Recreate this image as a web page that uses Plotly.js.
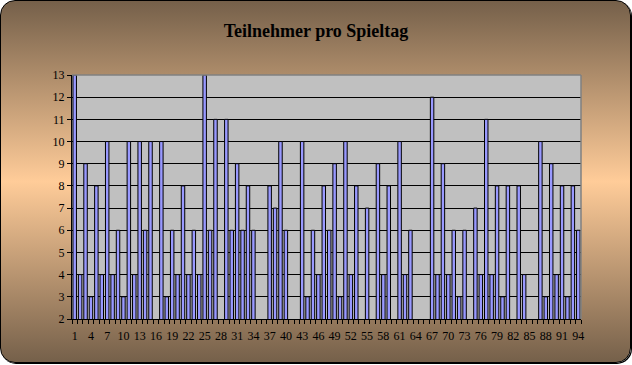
<!DOCTYPE html>
<html>
<head>
<meta charset="utf-8">
<script src="https://cdn.plot.ly/plotly-3.0.1.min.js"></script>
<style>
  html, body { margin: 0; padding: 0; background: #ffffff; }
  #frame {
    position: absolute; left: 0; top: 0;
    width: 631px; height: 363px;
    box-sizing: border-box;
    border: 1px solid #000;
    border-radius: 15px;
    box-shadow: 1px 1px 0 #000;
    background: linear-gradient(to bottom, #75604A 0%, #FFCC99 50%, #75604A 100%);
    overflow: hidden;
  }
  #chart { position: absolute; left: 0; top: 0; width: 632px; height: 365px; }
</style>
</head>
<body>
<div id="frame"></div>
<div id="chart"></div>
<script>
const title = "Teilnehmer pro Spieltag";
const spieltage = [1,2,3,4,5,6,7,8,9,10,11,12,13,14,15,16,17,18,19,20,21,22,23,24,25,26,27,28,29,30,31,32,33,34,35,36,37,38,39,40,41,42,43,44,45,46,47,48,49,50,51,52,53,54,55,56,57,58,59,60,61,62,63,64,65,66,67,68,69,70,71,72,73,74,75,76,77,78,79,80,81,82,83,84,85,86,87,88,89,90,91,92,93,94];
const teilnehmer = [13,4,9,3,8,4,10,4,6,3,10,4,10,6,10,null,10,3,6,4,8,4,6,4,13,6,11,null,11,6,9,6,8,6,null,null,8,7,10,6,null,null,10,3,6,4,8,6,9,3,10,4,8,null,7,null,9,4,8,null,10,4,6,null,null,null,12,4,9,4,6,3,6,null,7,4,11,4,8,3,8,null,8,4,null,null,10,3,9,4,8,3,8,6];
const xTickVals = [1,4,7,10,13,16,19,22,25,28,31,34,37,40,43,46,49,52,55,58,61,64,67,70,73,76,79,82,85,88,91,94];
const xTickText = ["1","4","7","10","13","16","19","22","25","28","31","34","37","40","43","46","49","52","55","58","61","64","67","70","73","76","79","82","85","88","91","94"];
const yTickVals = [2,3,4,5,6,7,8,9,10,11,12,13];

const font = "Liberation Serif, Times New Roman, serif";

const trace = {
  type: "bar",
  x: spieltage,
  y: teilnehmer,
  marker: { color: "#9999FF", line: { color: "#000000", width: 1 } },
  hoverinfo: "x+y"
};

const layout = {
  width: 632, height: 365,
  margin: { l: 72, r: 51, t: 75, b: 46 },
  paper_bgcolor: "rgba(0,0,0,0)",
  plot_bgcolor: "#C0C0C0",
  showlegend: false,
  bargap: 0.36,
  title: {
    text: "<b>" + title + "</b>",
    font: { family: font, size: 18, color: "#000000" },
    x: 0.5, xanchor: "center", xref: "container",
    y: 1 - 31/365, yanchor: "middle", yref: "container"
  },
  xaxis: {
    range: [0.5, 94.5],
    tickmode: "array", tickvals: xTickVals, ticktext: xTickText,
    ticks: "", showgrid: false, zeroline: false,
    showline: true, linecolor: "#000000", linewidth: 1,
    ticklabelstandoff: 6,
    tickfont: { family: font, size: 12, color: "#000000" },
    minor: { tickmode: "linear", tick0: 0.5, dtick: 1, ticks: "outside", ticklen: 4, tickcolor: "#000000", tickwidth: 1, showgrid: false }
  },
  yaxis: {
    range: [2, 13],
    tickmode: "array", tickvals: yTickVals,
    ticks: "outside", ticklen: 4, tickcolor: "#000000", tickwidth: 1,
    showgrid: true, gridcolor: "#000000", gridwidth: 1, zeroline: false,
    showline: true, linecolor: "#000000", linewidth: 1,
    tickfont: { family: font, size: 12, color: "#000000" }
  },
  shapes: [
    { type: "line", xref: "paper", yref: "paper", x0: 0, x1: 1, y0: 1, y1: 1, line: { color: "#808080", width: 1.5 }, layer: "above" },
    { type: "line", xref: "paper", yref: "paper", x0: 1, x1: 1, y0: 0, y1: 1, line: { color: "#808080", width: 1.5 }, layer: "above" }
  ]
};

Plotly.newPlot("chart", [trace], layout, { displayModeBar: false, staticPlot: true });
</script>
</body>
</html>
